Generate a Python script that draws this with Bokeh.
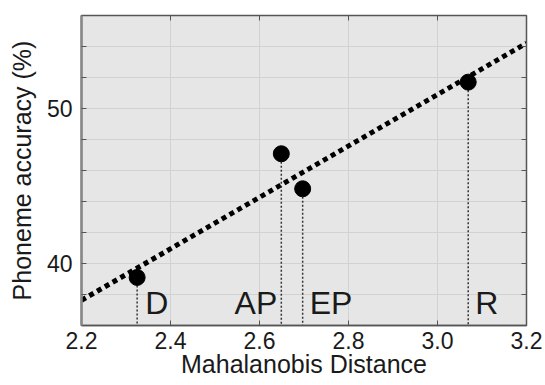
import numpy as np
from bokeh.plotting import figure
from bokeh.models import ColumnDataSource, LinearAxis, FixedTicker, Range1d
from bokeh.core.properties import value
from bokeh.embed import file_html
from bokeh.resources import INLINE

# data
labels = ["D", "AP", "EP", "R"]
distance = [2.325, 2.649, 2.697, 3.069]
accuracy = [39.1, 47.08, 44.82, 51.7]
x_ticks = [2.2, 2.4, 2.6, 2.8, 3.0, 3.2]
x_tick_labels = ["2.2", "2.4", "2.6", "2.8", "3.0", "3.2"]
y_ticks = [38, 40, 42, 44, 46, 48, 50, 52, 54]
y_tick_labels = {40: "40", 50: "50"}

X_MIN, X_MAX = 2.2, 3.2
Y_MIN, Y_MAX = 36, 56
LABEL_Y = 37.42

FONT = "Liberation Sans"
TXT = "#1a1a1a"

p = figure(width=545, height=385, output_backend="svg", toolbar_location=None,
           x_range=Range1d(X_MIN, X_MAX), y_range=Range1d(Y_MIN, Y_MAX),
           min_border_left=81, min_border_right=19, min_border_top=15, min_border_bottom=60)
p.background_fill_color = "#e6e6e6"
p.border_fill_color = "white"
p.outline_line_color = "#555555"
p.outline_line_width = 1.5

# axes
p.xaxis.ticker = FixedTicker(ticks=x_ticks)
p.xaxis.major_label_overrides = {t: l for t, l in zip(x_ticks, x_tick_labels)}
p.yaxis.ticker = FixedTicker(ticks=y_ticks)
p.yaxis.major_label_overrides = {t: y_tick_labels.get(t, "") for t in y_ticks}
for ax in (p.xaxis[0], p.yaxis[0]):
    ax.major_tick_in = 5
    ax.major_tick_out = 0
    ax.minor_tick_in = 0
    ax.minor_tick_out = 0
    ax.major_tick_line_color = "#555555"
    ax.axis_line_color = "#555555"
    ax.axis_line_width = 1.5
    ax.major_label_text_font = FONT
    ax.major_label_text_font_size = "23px"
    ax.major_label_text_color = TXT
    ax.axis_label_text_font = FONT
    ax.axis_label_text_font_size = "25px"
    ax.axis_label_text_font_style = "normal"
    ax.axis_label_text_color = TXT
p.yaxis.axis_line_color = "#888888"
p.yaxis.axis_line_width = 2.5
p.xaxis.axis_label = "Mahalanobis Distance"
p.yaxis.axis_label = "Phoneme accuracy (%)"
p.xaxis.major_label_standoff = 6
p.xaxis.axis_label_standoff = -2
p.yaxis.major_label_standoff = 9
p.yaxis.axis_label_standoff = 8

for loc, ticks in (("above", x_ticks), ("right", y_ticks)):
    ax = LinearAxis(ticker=FixedTicker(ticks=ticks), major_label_text_font_size="0px",
                    major_tick_in=5, major_tick_out=0, minor_tick_in=0, minor_tick_out=0,
                    major_label_standoff=0, axis_line_color="#555555",
                    major_tick_line_color="#555555")
    ax.major_label_overrides = {t: "" for t in ticks}
    p.add_layout(ax, loc)

p.xgrid.ticker = FixedTicker(ticks=x_ticks)
p.ygrid.ticker = FixedTicker(ticks=y_ticks)
p.grid.grid_line_color = "#d2d2d2"
p.grid.grid_line_width = 1

# regression line from the data
slope, icpt = np.polyfit(distance, accuracy, 1)
p.line([X_MIN, X_MAX], [icpt + slope * X_MIN, icpt + slope * X_MAX],
       line_color="black", line_width=5, line_dash="5 4")

# drop lines
src = ColumnDataSource(dict(x=distance, y=accuracy, lab=labels,
                            base=[Y_MIN] * len(distance)))
p.segment(x0="x", y0="y", x1="x", y1="base", source=src,
          line_color="#333333", line_width=1.5, line_dash="2 2")
p.scatter(x="x", y="y", source=src, size=16, color="black")

# labels
lab_src = ColumnDataSource(dict(x=distance, lab=labels, y=[LABEL_Y] * len(labels),
                                align=["left", "right", "left", "left"],
                                xoff=[8, -4, 7, 7]))
p.text(x="x", y="y", text="lab", source=lab_src, text_align="align", x_offset="xoff",
       text_baseline="middle", text_font=value(FONT), text_font_size="32px",
       text_color=TXT)

open("out.html", "w").write(file_html(p, INLINE))
